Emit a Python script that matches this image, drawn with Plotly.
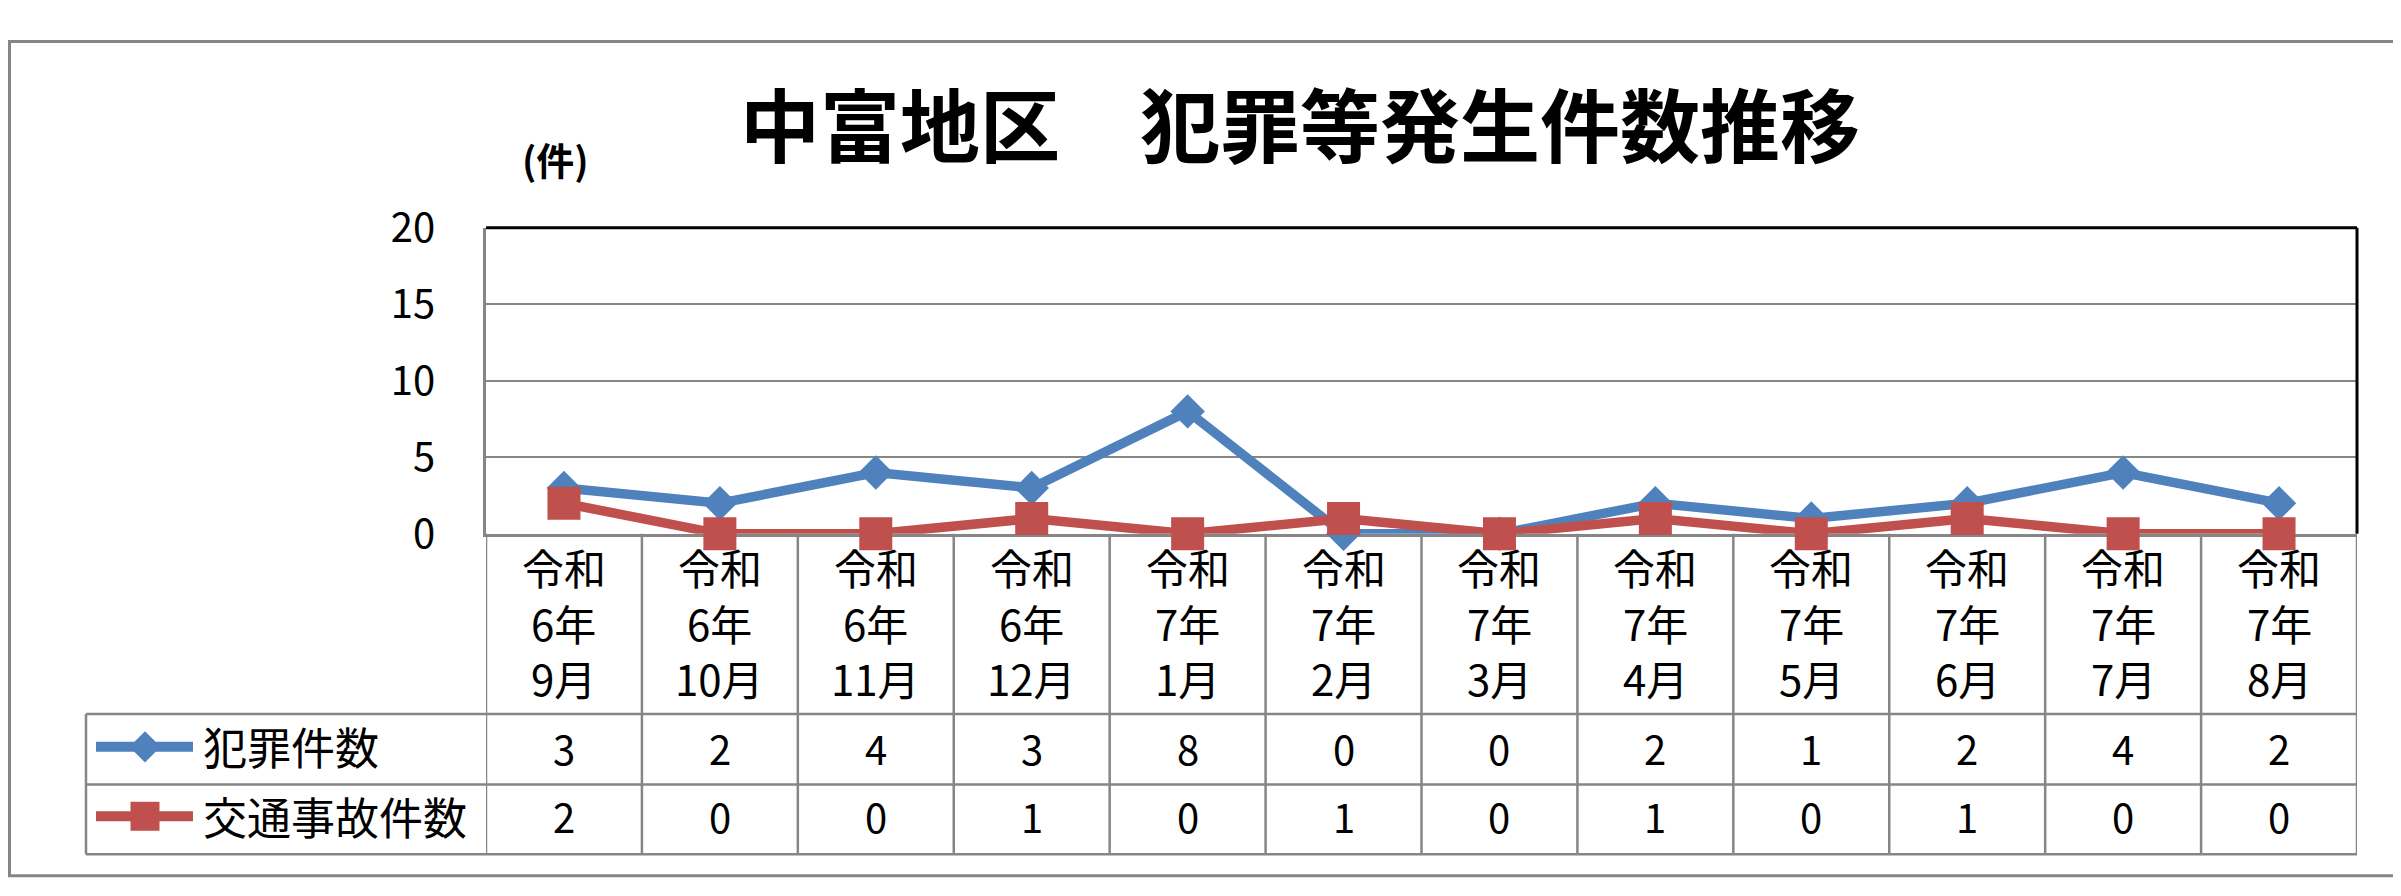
import plotly.graph_objects as go

# canvas size (px)
W, H = 2401, 896

# data
era = '令和'
years = ['6年', '6年', '6年', '6年', '7年', '7年', '7年', '7年', '7年', '7年', '7年', '7年']
months = ['9月', '10月', '11月', '12月', '1月', '2月', '3月', '4月', '5月', '6月', '7月', '8月']
crime = [3, 2, 4, 3, 8, 0, 0, 2, 1, 2, 4, 2]
traffic = [2, 0, 0, 1, 0, 1, 0, 1, 0, 1, 0, 0]
series_names = ['犯罪件数', '交通事故件数']
title_text = '中富地区　犯罪等発生件数推移'
unit_text = '(件)'

# plot area / table geometry (pixels)
PL, PR, PT, PB = 478, 2349, 200.7, 528
TL = 78
ROW_TOP, ROW_MID, ROW_BOT = 720.7, 796, 870.7

BLUE = '#4F81BD'
RED = '#C0504D'
GRID = '#868686'
FONT = 'Noto Sans CJK JP'

idx = list(range(len(months)))

fig = go.Figure()

# data series
fig.add_trace(go.Scatter(
    x=idx, y=crime, mode='lines+markers', name=series_names[0],
    line=dict(color=BLUE, width=9.5),
    marker=dict(symbol='diamond', size=26.5, color=BLUE),
    cliponaxis=False, showlegend=False, xaxis='x', yaxis='y'))
fig.add_trace(go.Scatter(
    x=idx, y=traffic, mode='lines+markers', name=series_names[1],
    line=dict(color=RED, width=9.5),
    marker=dict(symbol='square', size=33, color=RED),
    cliponaxis=False, showlegend=False, xaxis='x', yaxis='y'))

# legend keys inside the data table (pixel overlay axis)
for yy, col, sym, sz in [(755.7, BLUE, 'diamond', 24), (830, RED, 'square', 29)]:
    fig.add_trace(go.Scatter(
        x=[88, 185], y=[yy, yy], mode='lines', line=dict(color=col, width=10),
        showlegend=False, hoverinfo='skip', xaxis='x2', yaxis='y2'))
    fig.add_trace(go.Scatter(
        x=[137], y=[yy], mode='markers', marker=dict(symbol=sym, size=sz, color=col),
        showlegend=False, hoverinfo='skip', xaxis='x2', yaxis='y2'))

shapes = []
# outer frame
shapes.append(dict(type='rect', xref='x2', yref='y2', x0=1.5, x1=W - 2.5, y0=1.5, y1=H - 2.5,
                   line=dict(color=GRID, width=3)))
# black top and right border of plot area
shapes.append(dict(type='line', xref='x2', yref='y2', x0=PL, x1=PR, y0=PT, y1=PT,
                   line=dict(color='black', width=3)))
shapes.append(dict(type='line', xref='x2', yref='y2', x0=PR, x1=PR, y0=PT, y1=PB,
                   line=dict(color='black', width=3)))
# table column separators
for i in range(len(months) + 1):
    shapes.append(dict(type='line', xref='x', yref='y2', x0=i - 0.5, x1=i - 0.5, y0=PB, y1=ROW_BOT,
                       line=dict(color=GRID, width=2.5)))
# table rows
for yy in [ROW_TOP, ROW_MID, ROW_BOT]:
    shapes.append(dict(type='line', xref='x2', yref='y2', x0=TL, x1=PR, y0=yy, y1=yy,
                       line=dict(color=GRID, width=2.5)))
shapes.append(dict(type='line', xref='x2', yref='y2', x0=TL, x1=TL, y0=ROW_TOP, y1=ROW_BOT,
                   line=dict(color=GRID, width=2.5)))

annotations = []
annotations.append(dict(xref='x2', yref='y2', x=1292, y=87, text=title_text, showarrow=False,
                        font=dict(family=FONT, size=80, color='black', weight='bold')))
annotations.append(dict(xref='x2', yref='y2', x=547, y=127, text=unit_text, showarrow=False,
                        font=dict(family=FONT, size=38, color='black', weight='bold')))

for i in idx:
    for yy, txt in [(563, era), (622.5, years[i]), (682, months[i])]:
        annotations.append(dict(xref='x', yref='y2', x=i, y=yy, text=txt, showarrow=False,
                                font=dict(family=FONT, size=42, color='black')))
    annotations.append(dict(xref='x', yref='y2', x=i, y=757, text=str(crime[i]), showarrow=False,
                            font=dict(family=FONT, size=40, color='black')))
    annotations.append(dict(xref='x', yref='y2', x=i, y=830, text=str(traffic[i]), showarrow=False,
                            font=dict(family=FONT, size=40, color='black')))

for yy, name in [(755, series_names[0]), (830, series_names[1])]:
    annotations.append(dict(xref='x2', yref='y2', x=193, y=yy, text=name, showarrow=False,
                            xanchor='left', font=dict(family=FONT, size=44, color='black')))

fig.update_layout(
    width=W, height=H,
    margin=dict(l=0, r=0, t=0, b=0),
    paper_bgcolor='white',
    plot_bgcolor='rgba(0,0,0,0)',
    font=dict(family=FONT, color='black'),
    xaxis=dict(domain=[PL / W, PR / W], range=[-0.5, len(months) - 0.5],
               showgrid=False, zeroline=False, showticklabels=False,
               showline=True, linecolor=GRID, linewidth=2.5, layer='below traces', fixedrange=True),
    yaxis=dict(domain=[1 - PB / H, 1 - PT / H], range=[0, 20], dtick=5,
               showgrid=True, gridcolor=GRID, gridwidth=2, zeroline=False,
               showline=True, linecolor=GRID, linewidth=2.5, layer='below traces',
               tickfont=dict(family=FONT, size=40, color='black'),
               ticklabelstandoff=40, fixedrange=True),
    xaxis2=dict(domain=[0, 1], range=[0, W], visible=False, anchor='y2', fixedrange=True),
    yaxis2=dict(domain=[0, 1], range=[H, 0], visible=False, anchor='x2', fixedrange=True),
    shapes=shapes,
    annotations=annotations,
)

fig.write_html('out.html')
